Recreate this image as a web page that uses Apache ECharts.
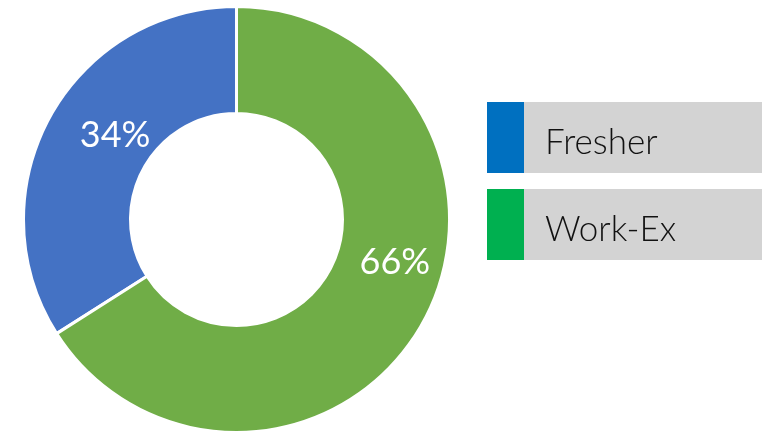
<!DOCTYPE html>
<html>
<head>
<meta charset="utf-8">
<script src="https://cdn.jsdelivr.net/npm/echarts@6/dist/echarts.min.js"></script>
<style>
html,body{margin:0;padding:0;background:#fff;}
#main{width:765px;height:432px;}
</style>
</head>
<body>
<div id="main"></div>
<script>
const categories = ['Fresher', 'Work-Ex'];
const values = [34, 66];
const sliceColors = ['#4472C4', '#70AD47'];
const legendColors = ['#0070C0', '#00B050'];
const labelOffsets = [[21, -6], [16, -35]];

const chart = echarts.init(document.getElementById('main'), null, {renderer: 'canvas'});
const total = values.reduce((a, b) => a + b, 0);

const legendGraphics = [];
categories.forEach((c, i) => {
  const top = 102 + i * 87;
  legendGraphics.push({
    type: 'rect', left: 523, top: top,
    shape: {width: 239, height: 71},
    style: {fill: '#D3D3D3'}
  });
  legendGraphics.push({
    type: 'rect', left: 487, top: top,
    shape: {width: 37, height: 71},
    style: {fill: legendColors[i]}
  });
  legendGraphics.push({
    type: 'text', left: 545, top: top + 23,
    style: {text: c, fill: '#111', font: '300 35px Lato'}
  });
});

chart.setOption({
  animation: false,
  series: [{
    type: 'pie',
    center: [236.5, 219.5],
    radius: [106, 213],
    startAngle: 90,
    clockwise: false,
    itemStyle: {borderColor: '#fff', borderWidth: 3},
    label: {
      position: 'inside',
      color: '#fff',
      fontFamily: 'Lato',
      fontWeight: 'normal',
      fontSize: 36,
      formatter: p => Math.round(p.value / total * 100) + '%'
    },
    labelLine: {show: false},
    data: categories.map((c, i) => ({
      name: c, value: values[i],
      itemStyle: {color: sliceColors[i]},
      label: {offset: labelOffsets[i]}
    }))
  }],
  graphic: legendGraphics
});
</script>
</body>
</html>
